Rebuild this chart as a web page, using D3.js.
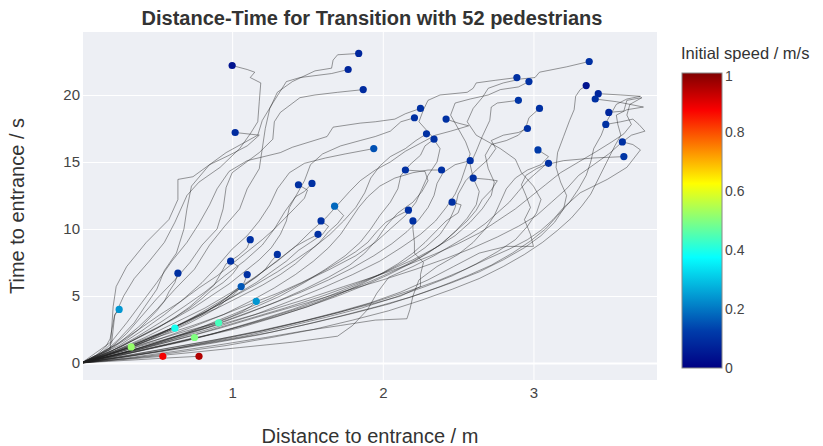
<!DOCTYPE html>
<html>
<head>
<meta charset="utf-8">
<script src="https://cdn.jsdelivr.net/npm/d3@7/dist/d3.min.js"></script>
<style>
  body { margin: 0; background: #fff; }
  text { font-family: "Liberation Sans", Arial, sans-serif; }
</style>
</head>
<body>
<div id="chart"></div>
<script>
// initial speed of each pedestrian (m/s), same order as tracks
const speeds = [0.04, 0.08, 0.08, 0.09, 0.09, 0.15, 0.1, 0.1, 0.1, 0.1,
                0.1, 0.1, 0.1, 0.11, 0.1, 0.1, 0.12, 0.1, 0.04, 0.08,
                0.1, 0.08, 0.1, 0.1, 0.11, 0.1, 0.1, 0.1, 0.1, 0.1,
                0.1, 0.1, 0.18, 0.1, 0.1, 0.1, 0.1, 0.1, 0.1, 0.1,
                0.1, 0.1, 0.16, 0.24, 0.1, 0.24, 0.39, 0.44, 0.5, 0.52,
                0.88, 0.95]

// [distance, time] per step, first point = start, last = entrance
const tracks = [
  [[1.00,22.2],[1.10,21.9],[1.15,21.7],[1.12,21.3],[1.19,20.9],[1.18,19.5],[1.17,18.0],[1.12,17.1],[1.05,16.0],[0.92,14.6],[0.78,13.5],[0.70,12.5],[0.62,10.5],[0.55,9.0],[0.45,7.6],[0.35,6.3],[0.28,5.0],[0.22,3.5],[0.20,1.5],[0.12,0.6],[0,0]],
  [[1.84,23.1],[1.70,23.0],[1.67,22.6],[1.66,22.0],[1.55,21.8],[1.40,21.0],[1.30,20.2],[1.25,19.0],[1.22,17.5],[1.20,16.0],[1.18,14.5],[1.10,13.0],[1.05,11.5],[0.95,10.2],[0.85,8.8],[0.75,7.0],[0.62,5.5],[0.50,4.0],[0.38,2.7],[0.25,1.5],[0,0]],
  [[1.77,21.9],[1.66,21.6],[1.45,21.3],[1.36,21.0],[1.27,19.4],[1.20,18.1],[1.17,17.0],[0.96,15.7],[0.74,13.9],[0.64,13.7],[0.64,12.2],[0.58,10.7],[0.43,9.0],[0.30,7.2],[0.23,5.7],[0.21,4.2],[0.20,2.5],[0.19,1.0],[0.10,0.4],[0,0]],
  [[1.87,20.4],[1.70,20.2],[1.55,20.0],[1.45,19.8],[1.32,18.7],[1.28,18.0],[1.27,16.7],[1.18,15.7],[1.00,14.2],[0.96,13.1],[0.94,11.5],[0.90,10.0],[0.80,8.8],[0.72,7.5],[0.62,6.2],[0.50,4.8],[0.40,3.5],[0.30,2.2],[0.18,1.0],[0,0]],
  [[1.02,17.2],[1.18,17.0],[1.10,16.2],[0.98,15.5],[0.85,14.8],[0.73,13.2],[0.70,11.5],[0.68,10.0],[0.63,8.2],[0.55,6.9],[0.50,5.5],[0.42,4.2],[0.35,3.0],[0.25,1.8],[0.15,0.8],[0,0]],
  [[1.94,16.0],[1.75,15.6],[1.62,15.3],[1.48,14.9],[1.38,14.2],[1.30,13.0],[1.25,11.8],[1.18,10.6],[1.10,9.5],[1.00,8.5],[0.90,7.2],[0.80,6.0],[0.68,4.8],[0.55,3.6],[0.40,2.4],[0.25,1.3],[0,0]],
  [[2.25,19.0],[2.15,18.6],[2.08,18.2],[1.95,18.0],[1.85,17.9],[1.67,17.6],[1.63,16.9],[1.40,16.1],[1.32,15.7],[1.10,15.1],[0.98,14.3],[0.90,13.0],[0.85,11.8],[0.78,10.4],[0.70,9.0],[0.60,7.6],[0.50,6.0],[0.40,4.5],[0.30,3.0],[0.20,1.6],[0,0]],
  [[2.21,18.3],[2.12,18.0],[2.05,17.3],[1.95,16.9],[1.85,16.6],[1.72,16.2],[1.60,15.6],[1.52,14.8],[1.48,13.6],[1.42,12.4],[1.35,11.3],[1.28,10.0],[1.20,8.8],[1.08,7.6],[0.95,6.5],[0.82,5.3],[0.68,4.2],[0.52,3.0],[0.36,1.9],[0.20,0.9],[0,0]],
  [[2.42,18.2],[2.50,17.9],[2.57,17.7],[2.45,17.3],[2.35,17.0],[2.25,16.4],[2.15,15.8],[2.05,15.0],[1.95,14.4],[1.85,13.6],[1.78,12.8],[1.70,11.8],[1.62,10.8],[1.52,9.8],[1.42,8.7],[1.30,7.6],[1.15,6.4],[1.00,5.3],[0.82,4.1],[0.62,3.0],[0.42,1.9],[0.22,0.9],[0,0]],
  [[2.29,17.1],[2.22,16.6],[2.15,16.0],[2.05,15.4],[1.98,14.7],[1.92,13.8],[1.88,12.7],[1.82,11.6],[1.74,10.6],[1.65,9.6],[1.55,8.7],[1.42,7.7],[1.30,6.8],[1.15,5.8],[1.00,4.9],[0.84,3.9],[0.66,2.9],[0.46,1.9],[0.25,0.9],[0,0]],
  [[2.34,16.7],[2.28,16.2],[2.25,15.5],[2.18,14.8],[2.12,14.0],[2.10,13.0],[2.05,12.0],[1.98,11.0],[1.92,10.0],[1.85,9.0],[1.75,8.0],[1.62,7.0],[1.48,6.0],[1.32,5.0],[1.12,4.0],[0.92,3.1],[0.70,2.2],[0.48,1.4],[0.25,0.7],[0,0]],
  [[2.89,21.3],[2.75,21.1],[2.62,20.9],[2.60,20.5],[2.56,20.2],[2.38,20.0],[2.30,19.6],[2.27,18.9],[2.24,18.0],[2.32,17.0],[2.38,16.0],[2.36,15.0],[2.30,14.0],[2.26,13.0],[2.22,12.0],[2.15,11.0],[2.05,10.0],[1.95,9.0],[1.82,8.0],[1.65,7.0],[1.45,5.9],[1.25,4.8],[1.02,3.7],[0.78,2.6],[0.52,1.6],[0.26,0.7],[0,0]],
  [[2.97,21.0],[2.90,20.6],[2.78,20.4],[2.70,20.0],[2.58,19.7],[2.48,19.4],[2.45,18.5],[2.50,17.5],[2.55,16.5],[2.58,15.6],[2.55,14.6],[2.52,13.6],[2.48,12.6],[2.42,11.6],[2.35,10.6],[2.25,9.6],[2.12,8.6],[1.98,7.6],[1.80,6.6],[1.60,5.6],[1.38,4.6],[1.15,3.6],[0.90,2.7],[0.62,1.8],[0.32,0.9],[0,0]],
  [[2.90,19.6],[2.76,19.4],[2.72,19.1],[2.71,18.1],[2.66,16.9],[2.62,15.8],[2.58,14.8],[2.60,13.8],[2.64,12.8],[2.62,11.8],[2.56,10.8],[2.48,9.8],[2.38,8.8],[2.25,7.9],[2.10,7.0],[1.92,6.1],[1.72,5.2],[1.50,4.3],[1.25,3.4],[0.98,2.5],[0.68,1.6],[0.35,0.8],[0,0]],
  [[3.04,19.0],[2.97,18.3],[2.95,17.6],[2.90,17.0],[2.82,16.6],[2.72,16.3],[2.68,15.5],[2.70,14.5],[2.74,13.5],[2.72,12.5],[2.66,11.5],[2.58,10.5],[2.48,9.5],[2.35,8.6],[2.20,7.7],[2.02,6.8],[1.82,5.9],[1.60,5.0],[1.35,4.1],[1.08,3.2],[0.78,2.2],[0.45,1.2],[0,0]],
  [[2.96,17.5],[2.90,17.2],[2.80,17.0],[2.72,16.6],[2.75,16.0],[2.70,15.2],[2.62,14.4],[2.55,13.6],[2.50,12.6],[2.48,11.6],[2.44,10.6],[2.38,9.6],[2.28,8.6],[2.15,7.6],[2.00,6.7],[1.82,5.8],[1.62,4.9],[1.40,4.0],[1.15,3.1],[0.88,2.2],[0.58,1.4],[0.30,0.7],[0,0]],
  [[3.03,15.9],[3.10,15.4],[3.05,14.8],[2.96,14.4],[2.88,13.8],[2.82,13.0],[2.78,12.0],[2.74,11.0],[2.68,10.0],[2.60,9.0],[2.50,8.1],[2.36,7.2],[2.24,6.2],[2.20,5.0],[2.18,4.0],[2.16,3.3],[1.95,3.2],[1.72,2.8],[1.48,2.4],[1.22,1.9],[0.94,1.4],[0.64,0.9],[0.32,0.4],[0,0]],
  [[3.37,22.5],[3.22,22.1],[3.04,21.7],[3.01,21.3],[2.92,21.2],[2.80,20.9],[2.70,20.5],[2.66,19.8],[2.60,19.0],[2.56,18.0],[2.62,17.0],[2.78,16.0],[2.88,15.2],[2.92,14.2],[3.00,13.2],[3.05,12.2],[3.02,11.2],[2.96,10.2],[2.88,9.2],[2.76,8.3],[2.62,7.4],[2.46,6.5],[2.28,5.7],[2.08,4.9],[1.86,4.1],[1.62,3.4],[1.36,2.7],[1.08,2.0],[0.78,1.4],[0.48,0.8],[0,0]],
  [[3.35,20.7],[3.31,20.4],[3.28,19.9],[3.27,18.9],[3.24,18.1],[3.20,16.9],[3.16,15.7],[3.15,14.6],[3.18,13.5],[3.22,12.5],[3.20,11.5],[3.14,10.5],[3.05,9.5],[2.94,8.6],[2.80,7.7],[2.64,6.8],[2.46,6.0],[2.26,5.2],[2.04,4.4],[1.80,3.7],[1.54,3.0],[1.26,2.3],[0.96,1.7],[0.64,1.1],[0.32,0.5],[0,0]],
  [[3.43,20.1],[3.58,20.0],[3.71,19.9],[3.62,19.7],[3.55,19.3],[3.52,18.7],[3.48,17.9],[3.45,17.0],[3.40,16.0],[3.38,15.0],[3.35,14.0],[3.30,13.0],[3.24,12.0],[3.16,11.0],[3.08,10.0],[2.98,9.1],[2.86,8.2],[2.72,7.3],[2.56,6.5],[2.38,5.7],[2.18,4.9],[1.96,4.2],[1.72,3.5],[1.46,2.8],[1.18,2.1],[0.88,1.5],[0.56,0.9],[0.26,0.4],[0,0]],
  [[3.41,19.7],[3.55,19.5],[3.73,19.1],[3.62,18.9],[3.55,18.5],[3.56,17.8],[3.58,17.0],[3.54,16.2],[3.50,15.3],[3.46,14.4],[3.42,13.5],[3.38,12.6],[3.32,11.7],[3.25,10.8],[3.16,9.9],[3.06,9.0],[2.94,8.1],[2.80,7.2],[2.64,6.3],[2.46,5.5],[2.26,4.7],[2.04,3.9],[1.80,3.2],[1.54,2.5],[1.26,1.9],[0.96,1.3],[0.64,0.8],[0.32,0.35],[0,0]],
  [[3.50,18.7],[3.60,18.8],[3.62,19.6],[3.72,19.8],[3.64,19.3],[3.62,18.5],[3.65,17.8],[3.60,17.1],[3.52,16.5],[3.42,15.8],[3.30,15.0],[3.18,14.2],[3.08,13.3],[2.98,12.4],[2.88,11.5],[2.76,10.6],[2.64,9.7],[2.50,8.9],[2.34,8.1],[2.16,7.3],[1.96,6.5],[1.74,5.7],[1.50,4.8],[1.24,3.9],[0.96,3.0],[0.66,2.1],[0.34,1.1],[0,0]],
  [[3.48,17.8],[3.58,18.0],[3.66,18.2],[3.70,17.8],[3.74,17.3],[3.65,17.0],[3.58,16.4],[3.50,15.6],[3.40,14.8],[3.30,14.0],[3.22,13.0],[3.12,12.0],[3.02,11.0],[2.90,10.2],[2.76,9.4],[2.60,8.6],[2.42,7.8],[2.22,7.0],[2.00,6.2],[1.76,5.4],[1.50,4.5],[1.22,3.6],[0.92,2.6],[0.62,1.7],[0.30,0.8],[0,0]],
  [[3.59,16.5],[3.66,16.3],[3.71,15.9],[3.62,14.6],[3.49,13.7],[3.31,12.7],[3.20,11.6],[3.13,10.7],[3.05,9.9],[2.96,9.2],[2.84,8.5],[2.70,7.8],[2.55,7.0],[2.38,6.2],[2.18,5.4],[1.96,4.6],[1.72,3.8],[1.46,3.1],[1.18,2.4],[0.88,1.7],[0.58,1.1],[0.28,0.5],[0,0]],
  [[3.60,15.4],[3.40,15.3],[3.20,15.1],[3.08,14.8],[3.02,14.2],[2.96,13.6],[2.90,12.8],[2.84,12.0],[2.76,11.2],[2.68,10.4],[2.58,9.6],[2.46,8.8],[2.34,8.0],[2.20,7.2],[2.04,6.4],[1.96,5.2],[1.90,4.0],[1.80,2.8],[1.70,2.0],[1.40,1.55],[1.05,1.15],[0.70,0.75],[0.35,0.37],[0,0]],
  [[3.10,14.9],[3.02,14.5],[2.95,14.0],[2.92,13.3],[2.95,12.5],[2.98,11.6],[2.94,10.7],[2.98,9.6],[3.00,8.7],[2.82,8.7],[2.64,8.2],[2.47,7.2],[2.30,6.2],[2.12,5.3],[1.92,4.5],[1.70,3.8],[1.46,3.1],[1.20,2.4],[0.92,1.8],[0.62,1.2],[0.32,0.6],[0,0]],
  [[2.15,14.4],[2.28,14.3],[2.30,13.6],[2.26,12.8],[2.20,12.0],[2.10,11.2],[2.02,10.2],[1.96,9.2],[1.88,8.2],[1.78,7.3],[1.64,6.4],[1.48,5.5],[1.30,4.6],[1.10,3.7],[0.88,2.8],[0.64,1.9],[0.38,1.0],[0,0]],
  [[2.39,14.4],[2.30,14.4],[2.20,14.2],[2.08,13.8],[1.98,13.2],[1.90,12.4],[1.84,11.6],[1.78,10.6],[1.72,9.6],[1.64,8.6],[1.54,7.6],[1.42,6.6],[1.28,5.6],[1.12,4.6],[0.94,3.6],[0.74,2.7],[0.52,1.8],[0.28,0.9],[0,0]],
  [[2.58,15.1],[2.48,14.8],[2.40,14.2],[2.36,13.4],[2.34,12.5],[2.30,11.6],[2.24,10.7],[2.16,9.8],[2.06,8.9],[1.94,8.0],[1.80,7.1],[1.64,6.2],[1.46,5.3],[1.26,4.4],[1.04,3.5],[0.82,2.6],[0.58,1.8],[0.32,0.9],[0,0]],
  [[2.60,13.8],[2.70,13.7],[2.76,13.6],[2.72,12.9],[2.66,12.2],[2.62,11.4],[2.56,10.6],[2.48,9.8],[2.40,9.0],[2.30,8.2],[2.18,7.4],[2.04,6.6],[1.88,5.8],[1.70,5.0],[1.50,4.2],[1.28,3.4],[1.04,2.6],[0.78,1.9],[0.50,1.2],[0.24,0.5],[0,0]],
  [[1.44,13.3],[1.50,12.9],[1.48,12.3],[1.42,11.6],[1.35,10.8],[1.28,10.0],[1.20,9.2],[1.10,8.3],[1.00,7.4],[0.90,6.5],[0.78,5.6],[0.66,4.6],[0.52,3.6],[0.38,2.5],[0.22,1.3],[0,0]],
  [[1.53,13.4],[1.48,12.8],[1.42,12.4],[1.38,11.6],[1.36,10.6],[1.32,9.6],[1.26,8.6],[1.18,7.7],[1.08,6.8],[0.98,5.9],[0.86,5.0],[0.74,4.1],[0.60,3.2],[0.44,2.3],[0.26,1.2],[0,0]],
  [[1.68,11.7],[1.74,11.0],[1.70,10.4],[1.64,9.8],[1.58,9.0],[1.50,8.2],[1.42,7.4],[1.32,6.6],[1.20,5.8],[1.06,5.0],[0.92,4.2],[0.76,3.4],[0.60,2.6],[0.42,1.8],[0.22,0.9],[0,0]],
  [[1.59,10.6],[1.64,10.2],[1.60,9.6],[1.52,9.0],[1.44,8.4],[1.36,7.6],[1.26,6.8],[1.16,6.0],[1.04,5.2],[0.92,4.4],[0.78,3.6],[0.64,2.8],[0.48,2.0],[0.30,1.2],[0.14,0.5],[0,0]],
  [[1.57,9.6],[1.50,9.2],[1.42,8.7],[1.34,8.0],[1.26,7.3],[1.18,6.6],[1.08,5.8],[0.98,5.0],[0.86,4.2],[0.74,3.4],[0.60,2.6],[0.46,1.8],[0.30,1.0],[0,0]],
  [[2.17,11.4],[2.10,11.0],[2.02,10.5],[1.96,9.8],[1.90,9.0],[1.82,8.3],[1.72,7.6],[1.60,6.8],[1.46,6.0],[1.30,5.2],[1.12,4.4],[0.94,3.6],[0.74,2.8],[0.52,2.0],[0.28,1.0],[0,0]],
  [[2.20,10.6],[2.20,10.0],[2.21,9.0],[2.21,8.2],[2.27,7.5],[2.25,6.6],[2.25,5.7],[2.12,5.0],[1.96,4.5],[1.78,4.0],[1.58,3.4],[1.36,2.8],[1.12,2.2],[0.86,1.6],[0.58,1.0],[0.30,0.5],[0,0]],
  [[2.46,12.0],[2.52,11.8],[2.50,11.2],[2.42,10.6],[2.35,9.8],[2.28,9.0],[2.20,8.2],[2.10,7.4],[1.98,6.6],[1.84,5.8],[1.68,5.0],[1.50,4.2],[1.30,3.5],[1.08,2.8],[0.84,2.1],[0.58,1.4],[0.30,0.7],[0,0]],
  [[1.12,9.2],[1.10,8.6],[1.04,8.0],[0.96,7.4],[0.92,6.6],[0.88,5.8],[0.80,5.0],[0.72,4.2],[0.62,3.4],[0.50,2.6],[0.36,1.8],[0.20,0.9],[0,0]],
  [[1.30,8.1],[1.26,7.6],[1.22,7.0],[1.16,6.4],[1.08,5.8],[1.00,5.2],[0.92,4.5],[0.82,3.8],[0.70,3.1],[0.56,2.4],[0.40,1.6],[0.22,0.8],[0,0]],
  [[0.99,7.6],[1.04,7.2],[1.00,6.6],[0.94,6.0],[0.86,5.4],[0.80,4.8],[0.72,4.1],[0.62,3.4],[0.52,2.7],[0.40,2.0],[0.26,1.2],[0.12,0.5],[0,0]],
  [[1.10,6.6],[1.08,6.0],[1.02,5.4],[0.96,4.8],[0.88,4.2],[0.80,3.6],[0.70,3.0],[0.58,2.4],[0.44,1.7],[0.30,1.1],[0.15,0.5],[0,0]],
  [[1.06,5.7],[1.02,5.2],[0.96,4.7],[0.90,4.1],[0.82,3.6],[0.72,3.0],[0.62,2.5],[0.50,1.9],[0.36,1.3],[0.20,0.7],[0,0]],
  [[1.16,4.6],[1.12,4.2],[1.06,3.8],[0.98,3.4],[0.88,3.0],[0.78,2.6],[0.66,2.1],[0.52,1.6],[0.38,1.1],[0.22,0.6],[0,0]],
  [[0.64,6.7],[0.62,6.0],[0.58,5.3],[0.55,4.6],[0.50,3.9],[0.44,3.2],[0.38,2.5],[0.30,1.8],[0.20,1.1],[0.10,0.5],[0,0]],
  [[0.25,4.0],[0.22,3.6],[0.21,3.0],[0.20,2.4],[0.19,1.8],[0.16,1.2],[0.10,0.6],[0,0]],
  [[0.62,2.6],[0.56,2.3],[0.48,2.0],[0.40,1.6],[0.30,1.2],[0.20,0.8],[0.10,0.4],[0,0]],
  [[0.91,3.0],[0.80,2.7],[0.70,2.4],[0.58,2.0],[0.46,1.6],[0.34,1.2],[0.22,0.8],[0.10,0.35],[0,0]],
  [[0.75,1.9],[0.64,1.6],[0.52,1.3],[0.40,1.0],[0.28,0.7],[0.14,0.35],[0,0]],
  [[0.33,1.2],[0.26,0.95],[0.18,0.65],[0.09,0.3],[0,0]],
  [[0.54,0.5],[0.40,0.37],[0.26,0.24],[0.12,0.11],[0,0]],
  [[0.78,0.5],[0.58,0.38],[0.38,0.25],[0.18,0.12],[0,0]]
]

const xTicks = [1, 2, 3]
const yTicks = [0, 5, 10, 15, 20]
const speedTicks = [0, 0.2, 0.4, 0.6, 0.8, 1]

const width = 823
const height = 446
const margin = {left: 83, top: 32, right: 166, bottom: 66}
const chartWidth = width - margin.left - margin.right
const chartHeight = height - margin.top - margin.bottom

const x = d3.scaleLinear().domain([0.01, 3.82]).range([0, chartWidth])
const y = d3.scaleLinear().domain([-1.27, 24.7]).range([chartHeight, 0])

// plotly "Jet"
const jet = d3.scaleLinear()
    .domain([0, 0.125, 0.375, 0.625, 0.875, 1])
    .range(['rgb(0,0,131)', 'rgb(0,60,170)', 'rgb(5,255,255)', 'rgb(255,255,0)', 'rgb(250,0,0)', 'rgb(128,0,0)'])

const svg = d3.select('#chart')
  .append('svg')
    .attr('width', width)
    .attr('height', height)

const g = svg.append('g')
    .attr('transform', `translate(${margin.left}, ${margin.top})`)

g.append('rect')
    .attr('width', chartWidth)
    .attr('height', chartHeight)
    .attr('fill', '#EDEFF4')

g.append('clipPath').attr('id', 'clip')
  .append('rect')
    .attr('width', chartWidth)
    .attr('height', chartHeight)

// grid
g.append('g')
    .call(d3.axisBottom(x).tickValues(xTicks).tickSize(chartHeight).tickFormat(''))
    .call(a => a.select('.domain').remove())
    .selectAll('line').attr('stroke', '#fff').attr('stroke-width', 1)

g.append('g')
    .call(d3.axisLeft(y).tickValues(yTicks).tickSize(-chartWidth).tickFormat(''))
    .call(a => a.select('.domain').remove())
    .selectAll('line')
      .attr('stroke', '#fff')
      .attr('stroke-width', d => d === 0 ? 2 : 1)

// tick labels
const xAxis = g.append('g')
    .attr('transform', `translate(0, ${chartHeight})`)
    .call(d3.axisBottom(x).tickValues(xTicks).tickSize(0).tickPadding(7).tickFormat(d => d))
xAxis.select('.domain').remove()
xAxis.selectAll('text').style('font-size', '15px').attr('fill', '#444')

const yAxis = g.append('g')
    .call(d3.axisLeft(y).tickValues(yTicks).tickSize(0).tickPadding(3))
yAxis.select('.domain').remove()
yAxis.selectAll('text').style('font-size', '15px').attr('fill', '#444')

// trajectories
const line = d3.line().x(d => x(d[0])).y(d => y(d[1]))

g.append('g')
    .attr('clip-path', 'url(#clip)')
  .selectAll('path')
  .data(tracks)
  .enter().append('path')
    .attr('d', line)
    .attr('fill', 'none')
    .attr('stroke', '#222')
    .attr('stroke-opacity', 0.45)
    .attr('stroke-width', 1)
    .attr('stroke-linejoin', 'round')

// start points
g.append('g')
  .selectAll('circle')
  .data(tracks)
  .enter().append('circle')
    .attr('cx', d => x(d[0][0]))
    .attr('cy', d => y(d[0][1]))
    .attr('r', 3.6)
    .attr('fill', (d, i) => jet(speeds[i]))

// titles
svg.append('text')
    .attr('x', 372)
    .attr('y', 25)
    .attr('text-anchor', 'middle')
    .style('font-size', '20px')
    .style('font-weight', 'bold')
    .attr('fill', '#333')
    .text('Distance-Time for Transition with 52 pedestrians')

svg.append('text')
    .attr('x', margin.left + chartWidth / 2)
    .attr('y', 443)
    .attr('text-anchor', 'middle')
    .style('font-size', '20px')
    .attr('fill', '#333')
    .text('Distance to entrance / m')

svg.append('text')
    .attr('transform', `translate(24, ${margin.top + chartHeight / 2}) rotate(-90)`)
    .attr('text-anchor', 'middle')
    .style('font-size', '20px')
    .attr('fill', '#333')
    .text('Time to entrance / s')

// colorbar
const cbX = 682, cbW = 40, cbTop = 73, cbBottom = 368
const cb = d3.scaleLinear().domain([0, 1]).range([cbBottom, cbTop])

const grad = svg.append('defs').append('linearGradient')
    .attr('id', 'jet')
    .attr('x1', 0).attr('y1', 1).attr('x2', 0).attr('y2', 0)
grad.selectAll('stop')
  .data(jet.domain())
  .enter().append('stop')
    .attr('offset', d => d)
    .attr('stop-color', d => jet(d))

svg.append('rect')
    .attr('x', cbX)
    .attr('y', cbTop)
    .attr('width', cbW)
    .attr('height', cbBottom - cbTop)
    .attr('fill', 'url(#jet)')
    .attr('stroke', '#888')
    .attr('stroke-width', 1)

const cbAxis = svg.append('g')
    .attr('transform', `translate(${cbX + cbW}, 0)`)
    .call(d3.axisRight(cb).tickValues(speedTicks).tickSize(0).tickPadding(3).tickFormat(d3.format('')))
cbAxis.select('.domain').remove()
cbAxis.selectAll('text').style('font-size', '14px').attr('fill', '#444')
// keep the top label clear of the title
cbAxis.selectAll('.tick').filter(d => d === 1).select('text').attr('dy', '0.5em')

svg.append('text')
    .attr('x', 681)
    .attr('y', 59)
    .style('font-size', '16.5px')
    .attr('fill', '#333')
    .text('Initial speed / m/s')
</script>
</body>
</html>
